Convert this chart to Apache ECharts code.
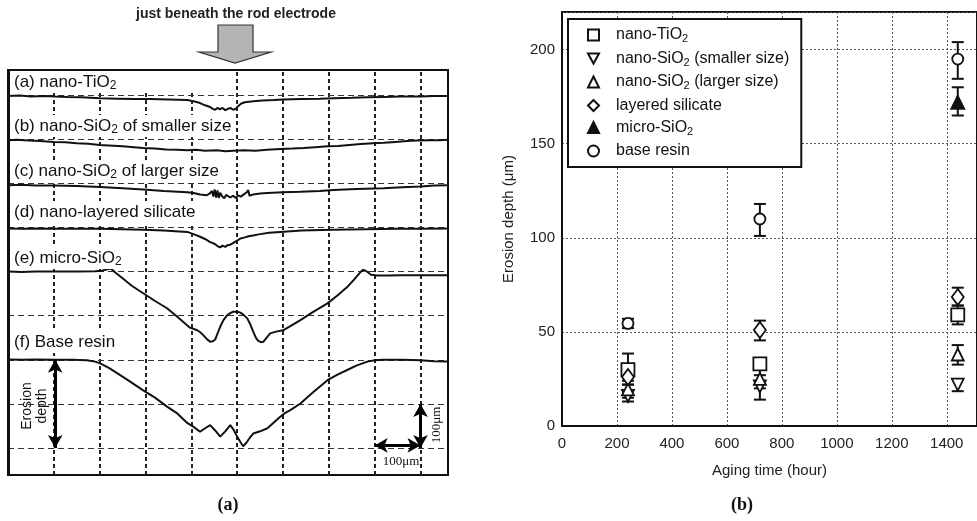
<!DOCTYPE html>
<html><head><meta charset="utf-8">
<script src="https://cdn.jsdelivr.net/npm/echarts@6/dist/echarts.min.js"></script>
<style>html,body{margin:0;padding:0;background:#fff}#c{width:977px;height:521px}</style>
</head><body><div id="c"></div>
<script>
// ===== Panel (a): surface profiles [position µm, level µm] =====
const profileTiO2 = [[0,798],[25,799],[50,797],[80,798],[103,797],[130,796],[160,795],[201,793],[240,792],[280,791],[310,791],[350,790],[391,789],[405,786],[419,782],[430,777],[441,773],[447,769],[452,767],[457,771],[462,768],[468,771],[474,766],[480,769],[486,771],[491,767],[497,769],[502,775],[509,781],[517,784],[535,786],[555,788],[580,789],[600,790],[640,791],[680,792],[710,793],[750,794],[784,795],[820,796],[856,797],[900,797],[930,798],[960,798]];
const profileSiO2Small = [[0,698],[20,699],[45,697],[70,696],[100,694],[125,693],[150,691],[175,690],[200,687],[220,686],[250,684],[275,682],[295,680],[320,679],[345,677],[370,676],[391,675],[410,676],[430,674],[455,675],[475,673],[491,674],[515,675],[540,674],[565,676],[594,678],[620,679],[645,680],[670,682],[697,684],[720,685],[745,687],[770,689],[797,691],[820,692],[845,694],[870,696],[893,697],[920,698],[940,698],[960,699]];
const profileSiO2Large = [[0,596],[30,597],[60,595],[100,595],[150,594],[201,592],[250,589],[295,586],[340,583],[391,580],[405,578],[419,575],[434,573],[441,578],[445,583],[448,570],[451,586],[454,568],[457,584],[460,567],[463,579],[467,571],[472,566],[476,574],[480,571],[485,568],[491,572],[497,567],[502,573],[508,570],[513,574],[517,571],[521,580],[524,585],[527,572],[531,569],[535,575],[539,576],[550,577],[566,578],[600,580],[638,581],[680,583],[710,585],[760,587],[819,589],[860,591],[900,593],[930,595],[960,596]];
const profileLayered = [[0,498],[30,497],[60,498],[100,497],[150,497],[201,497],[250,496],[295,495],[340,493],[391,490],[405,485],[419,479],[430,474],[441,467],[446,465],[452,462],[457,458],[463,455],[468,459],[474,456],[479,460],[485,461],[490,464],[496,468],[501,471],[507,475],[515,477],[525,480],[535,482],[550,485],[570,488],[594,490],[640,493],[710,495],[780,496],[850,497],[900,497],[960,498]];
const profileMicro = [[0,400],[30,399],[60,400],[100,400],[150,400],[190,401],[205,402],[215,405],[223,407],[229,403],[234,398],[250,385],[270,368],[295,351],[320,334],[347,317],[370,297],[397,273],[413,267],[420,262],[426,256],[434,247],[441,241],[447,242],[452,246],[458,262],[463,275],[470,290],[478,301],[485,306],[491,309],[500,309],[507,307],[514,302],[522,294],[528,282],[535,264],[541,250],[546,243],[552,240],[557,241],[564,250],[572,260],[585,264],[600,267],[615,276],[638,290],[665,308],[697,328],[720,347],[740,365],[755,382],[769,399],[775,404],[780,402],[786,398],[792,393],[806,391],[830,391],[856,392],[900,392],[960,392]];
const profileBase = [[0,201],[30,200],[60,201],[100,200],[140,200],[172,199],[190,196],[201,192],[220,182],[238,170],[260,155],[295,131],[320,115],[347,94],[370,78],[391,57],[405,48],[419,37],[430,45],[441,52],[452,40],[463,26],[474,38],[485,52],[492,42],[500,26],[507,14],[513,4],[520,12],[528,24],[535,33],[550,38],[566,45],[580,58],[594,71],[605,80],[616,86],[638,101],[665,126],[697,154],[720,167],[740,177],[760,187],[784,196],[800,199],[819,200],[860,200],[900,199],[930,197],[960,196]];
const profileGridX = [100,200,300,400,500,600,700,800,900];
const profileGridY = [0,100,200,300,400,500,600,700,800];

// ===== Panel (b): erosion depth vs aging time =====
const agingHours = [240, 720, 1440];
const depthTiO2   = [30, 33, 59];
const errTiO2     = [[22,38.5],[31,35],[54,64]];
const depthSmall  = [16, 21, 22];
const errSmall    = [[13,19],[14,27],[18.5,25]];
const depthLarge  = [19.5, 25, 38];
const errLarge    = [[15,24],[20,30],[32.6,43]];
const depthLayer  = [26, 51, 68.5];
const errLayer    = [[22,30],[45.5,56],[64,73.5]];
const depthMicro  = [null, null, 172];
const errMicro    = [null, null, [165,180]];
const depthBase   = [54.5, 110, 195];
const errBase     = [[52,57],[101,118],[184.5,204]];
const xTicks = [0,200,400,600,800,1000,1200,1400];
const yTicks = [0,50,100,150,200];

const SANS = 'Liberation Sans, Arial, Helvetica, sans-serif';
const SERIF = 'Liberation Serif, Times New Roman, serif';

function pts(ys){ const o=[]; ys.forEach((v,i)=>{ if(v!=null) o.push([agingHours[i], v]); }); return o; }
function errs(es){ const o=[]; es.forEach((e,i)=>{ if(e) o.push([agingHours[i], e[0], e[1]]); }); return o; }

const DOWN_TRI = 'path://M0,0L12,0L6,11Z';
const seriesDefs = [
  {name:'nano-TiO2', d:depthTiO2, e:errTiO2, symbol:'rect', size:13, fill:'#fff', rot:0},
  {name:'nano-SiO2 (smaller size)', d:depthSmall, e:errSmall, symbol:DOWN_TRI, size:12, fill:'#fff', rot:0},
  {name:'nano-SiO2 (larger size)', d:depthLarge, e:errLarge, symbol:'triangle', size:12, fill:'#fff', rot:0},
  {name:'layered silicate', d:depthLayer, e:errLayer, symbol:'diamond', size:[12,16], fill:'#fff', rot:0},
  {name:'micro-SiO2', d:depthMicro, e:errMicro, symbol:'triangle', size:13, fill:'#111', rot:0},
  {name:'base resin', d:depthBase, e:errBase, symbol:'circle', size:11, fill:'#fff', rot:0}
];
const legendRich = {
  'nano-TiO2': '{m|nano-TiO}{s|2}',
  'nano-SiO2 (smaller size)': '{m|nano-SiO}{s|2}{m| (smaller size)}',
  'nano-SiO2 (larger size)': '{m|nano-SiO}{s|2}{m| (larger size)}',
  'layered silicate': '{m|layered silicate}',
  'micro-SiO2': '{m|micro-SiO}{s|2}',
  'base resin': '{m|base resin}'
};

const vStyle = {color:'#222', width:2, type:[4,3]};
const hStyle = {color:'#333', width:1.2, type:[6,4]};

const series = [];
// grid lines of panel (a)
series.push({
  type:'line', xAxisIndex:0, yAxisIndex:0, data:[], silent:true, z:1,
  markLine:{z:1, silent:true, symbol:['none','none'], label:{show:false}, animation:false,
    data: profileGridX.map(v=>({xAxis:v, lineStyle:vStyle})).concat(profileGridY.map(v=>({yAxis:v, lineStyle:hStyle})))}
});
[profileTiO2, profileSiO2Small, profileSiO2Large, profileLayered, profileMicro, profileBase].forEach(p=>{
  series.push({type:'line', xAxisIndex:0, yAxisIndex:0, data:p, showSymbol:false, silent:true, z:10,
    lineStyle:{color:'#111', width:2}});
});
// annotation arrows of panel (a)
series.push({
  type:'line', xAxisIndex:0, yAxisIndex:0, data:[], silent:true, z:30,
  markLine:{z:30, silent:true, symbol:['arrow','arrow'], symbolSize:[11,13], label:{show:false}, animation:false,
    lineStyle:{color:'#000', width:3, type:'solid'},
    data:[
      [{coord:[103,200]},{coord:[103,0]}],
      [{coord:[900,100]},{coord:[900,0]}],
      [{coord:[800,6]},{coord:[900,6]}]
    ]}
});
// error bars panel (b)
const errData = [];
seriesDefs.forEach(s=>{ errs(s.e).forEach(r=>errData.push(r)); });
series.push({
  type:'custom', xAxisIndex:1, yAxisIndex:1, data:errData, z:3, silent:true,
  encode:{x:0, y:[1,2]},
  renderItem:function(params, api){
    const x=api.value(0), lo=api.value(1), hi=api.value(2);
    const t=api.coord([x,hi]), b=api.coord([x,lo]); const hw=6;
    const st={stroke:'#111', lineWidth:2};
    return {type:'group', children:[
      {type:'line', shape:{x1:t[0],y1:t[1],x2:b[0],y2:b[1]}, style:st},
      {type:'line', shape:{x1:t[0]-hw,y1:t[1],x2:t[0]+hw,y2:t[1]}, style:st},
      {type:'line', shape:{x1:b[0]-hw,y1:b[1],x2:b[0]+hw,y2:b[1]}, style:st}
    ]};
  }
});
seriesDefs.forEach(s=>{
  series.push({type:'scatter', name:s.name, xAxisIndex:1, yAxisIndex:1, data:pts(s.d), z:5,
    symbol:s.symbol, symbolSize:s.size, symbolRotate:s.rot,
    itemStyle:{color:s.fill, borderColor:'#111', borderWidth:1.8, opacity:1}});
});

function label(text, x, y, boxW){
  return [
    {type:'rect', z:20, shape:{x:10, y:y-11, width:boxW, height:22}, style:{fill:'#fff'}},
    {type:'text', z:21, x:x, y:y, style:{text:text, verticalAlign:'middle', align:'left',
      rich:{t:{fontSize:17, fontFamily:SANS, fill:'#111', lineHeight:20},
            s:{fontSize:12, fontFamily:SANS, fill:'#111', lineHeight:9, verticalAlign:'bottom'}}}}
  ];
}

const graphic = [].concat(
  label('{t|(a) nano-TiO}{s|2}', 14, 82, 205),
  label('{t|(b) nano-SiO}{s|2}{t| of smaller size}', 14, 126, 225),
  label('{t|(c) nano-SiO}{s|2}{t| of larger size}', 14, 171, 205),
  label('{t|(d) nano-layered silicate}', 14, 212, 205),
  label('{t|(e) micro-SiO}{s|2}', 14, 258, 117),
  label('{t|(f) Base resin}', 14, 342, 114),
  [
    {type:'line', z:25, shape:{x1:8.5, y1:70, x2:8.5, y2:476}, style:{stroke:'#111', lineWidth:3}},
    {type:'text', x:236, y:14, style:{text:'just beneath the rod electrode', align:'center', verticalAlign:'middle', font:'bold 14px '+SANS, fill:'#222'}},
    {type:'polygon', shape:{points:[[218,25],[253,25],[253,52],[271,52],[235,63],[199,52],[218,52]]}, style:{fill:'#b4b4b4', stroke:'#333', lineWidth:1.2}},
    {type:'text', z:32, x:35, y:406, rotation:Math.PI/2, style:{text:'Erosion\ndepth', align:'center', verticalAlign:'middle', font:'14px '+SANS, fill:'#111', lineHeight:15}},
    {type:'text', z:32, x:437, y:425, rotation:Math.PI/2, style:{text:'100μm', align:'center', verticalAlign:'middle', font:'13px '+SERIF, fill:'#111'}},
    {type:'text', z:32, x:401, y:462, style:{text:'100μm', align:'center', verticalAlign:'middle', font:'13px '+SERIF, fill:'#111'}},
    {type:'text', x:228, y:505, style:{text:'(a)', align:'center', verticalAlign:'middle', font:'bold 18px '+SERIF, fill:'#111'}},
    {type:'text', x:742, y:505, style:{text:'(b)', align:'center', verticalAlign:'middle', font:'bold 18px '+SERIF, fill:'#111'}}
  ]
);

const option = {
  animation:false,
  backgroundColor:'#fff',
  grid:[
    {left:8, top:70, width:440, height:405, show:true, borderColor:'#111', borderWidth:2, backgroundColor:'transparent'},
    {left:562, top:12, width:420, height:414, show:true, borderColor:'#111', borderWidth:2, backgroundColor:'transparent'}
  ],
  xAxis:[
    {gridIndex:0, type:'value', min:0, max:960, show:false},
    {gridIndex:1, type:'value', min:0, max:1510, interval:200,
      axisLine:{lineStyle:{color:'#111', width:2}}, axisTick:{show:false},
      axisLabel:{fontSize:15, color:'#222', margin:10, fontFamily:SANS, showMaxLabel:false,
        formatter:v=> xTicks.indexOf(v)>=0 ? String(v) : ''},
      splitLine:{show:true, lineStyle:{type:[2,2], color:'#555', width:1}},
      name:'Aging time (hour)', nameLocation:'middle', nameGap:37,
      nameTextStyle:{fontSize:15, color:'#222', fontFamily:SANS}}
  ],
  yAxis:[
    {gridIndex:0, type:'value', min:-61, max:857, show:false},
    {gridIndex:1, type:'value', min:0, max:220, interval:50,
      axisLine:{show:true, lineStyle:{color:'#111', width:2}}, axisTick:{show:false},
      axisLabel:{fontSize:15, color:'#222', margin:7, fontFamily:SANS, showMaxLabel:false,
        formatter:v=> yTicks.indexOf(v)>=0 ? String(v) : ''},
      splitLine:{show:true, lineStyle:{type:[2,2], color:'#555', width:1}},
      name:'Erosion depth (μm)', nameLocation:'middle', nameGap:46,
      nameTextStyle:{fontSize:15, color:'#222', fontFamily:SANS}}
  ],
  legend:{
    orient:'vertical', left:568, top:19, data:seriesDefs.map(s=>s.name),
    backgroundColor:'#fff', borderColor:'#111', borderWidth:2, padding:[8,12,8,19],
    itemWidth:11, itemHeight:11, itemGap:6, selectedMode:false,
    formatter:name=>legendRich[name],
    textStyle:{padding:[0,0,0,12], rich:{
      m:{fontSize:16, fontFamily:SANS, color:'#111', lineHeight:19},
      s:{fontSize:11, fontFamily:SANS, color:'#111', lineHeight:9, verticalAlign:'bottom'}}}
  },
  graphic:graphic,
  series:series
};
const chart = echarts.init(document.getElementById('c'), null, {renderer:'canvas'});
chart.setOption(option);
</script></body></html>
